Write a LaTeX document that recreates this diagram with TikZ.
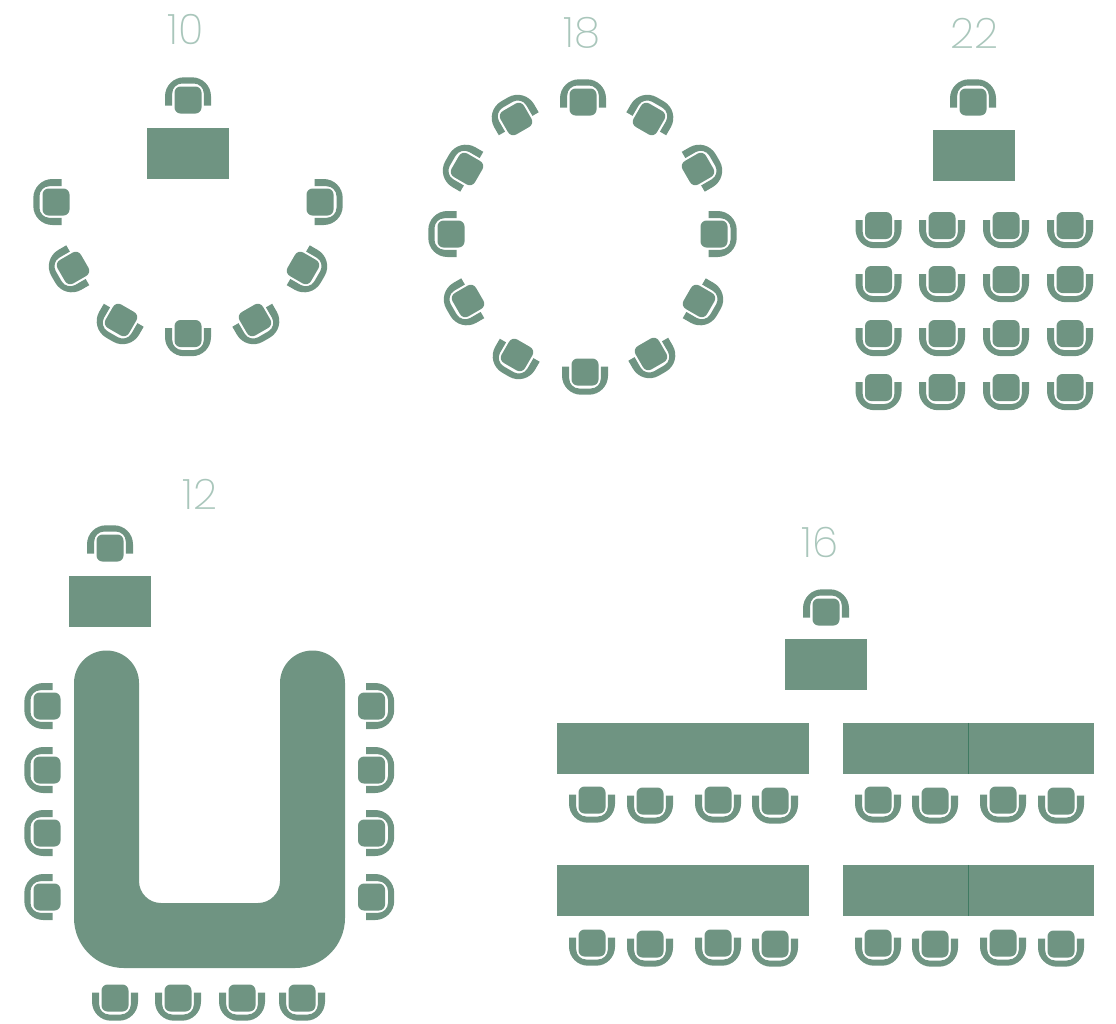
\documentclass[tikz,border=0pt]{standalone}
\usepackage{fontspec}
\setmainfont{Poppins ExtraLight}
\usepackage{xcolor}
\definecolor{primary}{HTML}{6F9482}
\definecolor{accent}{HTML}{A9C6BB}
\definecolor{secondary}{HTML}{3F7A62}
\tikzset{
 tablebox/.style={fill=primary,draw=none,inner sep=0pt,minimum width=#1,minimum height=51pt},
 tablebox/.default=82pt,
 count/.style={font=\fontsize{42}{42}\selectfont,text=accent,inner sep=0pt},
 chair/.pic={
  \fill[primary,rounded corners=6pt] (-13.5,-13.5) rectangle (13.5,13.5);
  \fill[primary] (-23,-5.5) [rounded corners=19pt] -- (-23,22.7) -- (23,22.7) [sharp corners] -- (23,-5.5) -- (15.8,-5.5)
   [rounded corners=10pt] -- (15.8,16.5) -- (-15.8,16.5) [sharp corners] -- (-15.8,-5.5) -- cycle;
 }
}
\begin{document}
\begin{tikzpicture}[x=1pt,y=-1pt]
 \useasboundingbox (0,0) rectangle (1116,1023);
 % labels
 \node[count] (ten) at (186,30) {10};
 \node[count] (eighteen) at (582,33) {18};
 \node[count] (twentytwo) at (974,33) {22};
 \node[count] (twelve) at (200,494) {12};
 \node[count] (sixteen) at (820,542) {16};
 % desks
 \node[tablebox] (deska) at (188,153.5) {};
 \node[tablebox] (deskb) at (974,155.5) {};
 \node[tablebox] (deskc) at (110,601.5) {};
 \node[tablebox] (deskd) at (826,664.5) {};
 \foreach \x/\y in {188/100,973/102,110/548,826/612}
  \pic[rotate=180] at (\x,\y) {chair};
 % ten
 \foreach \x/\y/\r in {56/202/-90,73/268/-60,121/320/-30,188/333.5/0,255/320/30,303/268/60,320/202/90}
  \pic[rotate=\r] at (\x,\y) {chair};
 % eighteen
 \foreach \x/\y/\r in {516/119/-150,467/169/-120,451/234/-90,468/301/-60,517/355/-30,585/372/0,651/354/30,699/301/60,714/234/90,698/169/120,649/119/150,583/102/180}
  \pic[rotate=\r] at (\x,\y) {chair};
 % twentytwo
 \foreach \x in {878.5,942,1006,1070}
  \foreach \y in {225.5,279.5,333.5,387.5}
   \pic at (\x,\y) {chair};
 % twelve
 \fill[primary] (74,683) arc[start angle=180,end angle=360,radius=32.5] -- (139,881)
  arc[start angle=180,end angle=90,radius=22] -- (258,903) arc[start angle=90,end angle=0,radius=22]
  -- (280,683) arc[start angle=180,end angle=360,radius=32.5] -- (345,918)
  arc[start angle=0,end angle=90,radius=50] -- (124,968) arc[start angle=90,end angle=180,radius=50] -- cycle;
 \foreach \y in {706,770,833,897} {
  \pic[rotate=-90] at (47,\y) {chair};
  \pic[rotate=90] at (371.5,\y) {chair};
 }
 \foreach \x in {115,178,242,302}
  \pic at (\x,998) {chair};
 % sixteen
 \foreach \y/\n in {748.5/a,890.5/b} {
  \node[tablebox=252pt] (long\n) at (683,\y) {};
  \node[tablebox=125.5pt] (left\n) at (905.5,\y) {};
  \node[tablebox=125.5pt] (right\n) at (1031.5,\y) {};
  \draw[secondary,line width=0.8pt] (left\n.north east) -- (left\n.south east);
 }
 \foreach \y in {0,143}
  \foreach \x/\d in {592/0,650/1,718/0,775/1,878/0,935/1,1003/0,1061/1}
   \pic at (\x,800+\y+\d) {chair};
\end{tikzpicture}
\end{document}
